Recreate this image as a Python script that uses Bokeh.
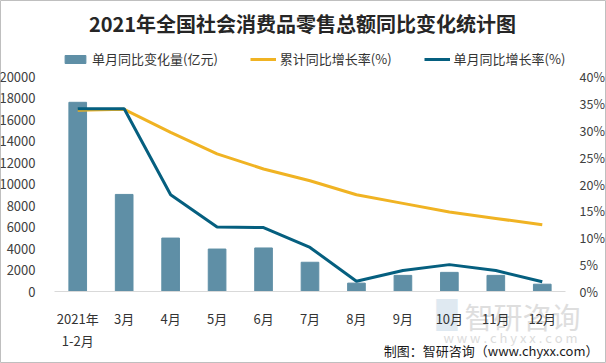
from bokeh.plotting import figure
from bokeh.models import (Range1d, LinearAxis, Legend, LegendItem, Label,
                          FixedTicker, CustomJSTickFormatter, ColumnDataSource)
from bokeh.embed import file_html
from bokeh.resources import INLINE

categories = ["2021年\n1-2月", "3月", "4月", "5月", "6月", "7月", "8月", "9月", "10月", "11月", "12月"]
monthly_change = [17600, 9030, 4970, 3950, 4050, 2720, 780, 1500, 1780, 1500, 680]
cumulative_growth = [33.7, 33.9, 29.6, 25.6, 22.8, 20.6, 18.0, 16.4, 14.8, 13.6, 12.4]
monthly_growth = [34.0, 34.0, 18.0, 12.0, 11.9, 8.2, 1.9, 3.9, 5.0, 3.9, 1.8]
left_ticks = list(range(0, 20001, 2000))
right_ticks = list(range(0, 41, 5))

title_text = "2021年全国社会消费品零售总额同比变化统计图"
legend_labels = ["单月同比变化量(亿元)", "累计同比增长率(%)", "单月同比增长率(%)"]
footer_text = "制图：智研咨询（www.chyxx.com）"

BAR = "#5f8fa6"
GOLD = "#f0b323"
TEAL = "#055f7f"
FONT = "Noto Sans CJK SC"

W, H = 606, 363
# plot area inside the canvas (canvas pixels)
PL, PR, PT, PB = 54, 565, 76, 291
n = len(categories)
xpos = list(range(n))
ppx = (PR - PL) / n
x_start = -0.5 - PL / ppx
x_end = n - 0.5 + (W - PR) / ppx
ymax_l, ymax_r = left_ticks[-1], right_ticks[-1]
ppy = (PB - PT)
y_start = -(H - PB) / ppy * ymax_l
y_end = ymax_l + PT / ppy * ymax_l
r_start = -(H - PB) / ppy * ymax_r
r_end = ymax_r + PT / ppy * ymax_r

src = ColumnDataSource(dict(x=xpos, bar=monthly_change,
                            cum=cumulative_growth, mon=monthly_growth))

p = figure(width=W, height=H, x_range=Range1d(x_start, x_end),
           y_range=Range1d(y_start, y_end), output_backend="svg", toolbar_location=None,
           min_border=0, x_axis_location=None, y_axis_location=None)
p.extra_y_ranges = {"pct": Range1d(r_start, r_end)}
p.outline_line_color = "#bfbfbf"
p.background_fill_color = "white"
p.border_fill_color = "white"
p.xgrid.grid_line_color = None
p.ygrid.grid_line_color = None

def lab(x, py, text, size, color, align="center", bold=False, font=FONT, level="annotation"):
    p.add_layout(Label(x=x, y=H - py, x_units="screen", y_units="screen", text=text,
                       text_align=align, text_baseline="middle", text_font=font,
                       text_font_size=size, text_font_style="bold" if bold else "normal",
                       text_color=color, level=level))

# watermark (beneath everything)
lab(522, 315, "智研咨询", "29px", "#dedede", level="underlay")
lab(510, 337, "w w w . c h y x x . c o m", "13px", "#dcdcdc", level="underlay")
lab(436, 314, "\u2588", "27px", "#dfe9f1", align="left", font="DejaVu Sans", level="underlay")

bars = p.vbar(x="x", top="bar", width=0.38, color=BAR, source=src)
l1 = p.line(x="x", y="cum", line_width=3, color=GOLD, y_range_name="pct", source=src)
l2 = p.line(x="x", y="mon", line_width=3, color=TEAL, y_range_name="pct", source=src)

def style(ax, color, size="13px"):
    ax.major_tick_line_color = None
    ax.minor_tick_line_color = None
    ax.major_label_text_font = FONT
    ax.major_label_text_font_size = size
    ax.major_label_text_color = color

xa = LinearAxis(ticker=FixedTicker(ticks=xpos),
                major_label_overrides={i: c for i, c in zip(xpos, categories)},
                fixed_location=0, bounds=(-0.5, n - 0.5))
style(xa, "#333333")
xa.axis_line_color = "#d9d9d9"
xa.major_label_standoff = 11
p.add_layout(xa, "below")

la = LinearAxis(ticker=FixedTicker(ticks=left_ticks), fixed_location=-0.5,
                bounds=(0, ymax_l))
style(la, "#404040")
la.axis_line_color = None
la.major_label_standoff = 13
p.add_layout(la, "left")

ra = LinearAxis(y_range_name="pct", ticker=FixedTicker(ticks=right_ticks),
                formatter=CustomJSTickFormatter(code="return tick + '%';"),
                fixed_location=n - 0.5, bounds=(0, ymax_r))
style(ra, "#404040", "12.5px")
ra.axis_line_color = None
ra.major_label_standoff = 8
p.add_layout(ra, "right")

legend = Legend(items=[LegendItem(label=legend_labels[0], renderers=[bars]),
                       LegendItem(label=legend_labels[1], renderers=[l1]),
                       LegendItem(label=legend_labels[2], renderers=[l2])],
                orientation="horizontal", location=(62, H - 68),
                glyph_width=26, glyph_height=10, label_height=12, label_standoff=4,
                spacing=32, padding=0, margin=0,
                label_text_font=FONT, label_text_font_size="13px",
                label_text_color="#333333", background_fill_alpha=0,
                border_line_color=None)
p.add_layout(legend, "center")

lab(302, 23, title_text, "20px", "#262626", bold=True)
lab(598, 350, footer_text, "13px", "#1a1a1a", align="right")

open("out.html", "w").write(file_html(p, INLINE))
